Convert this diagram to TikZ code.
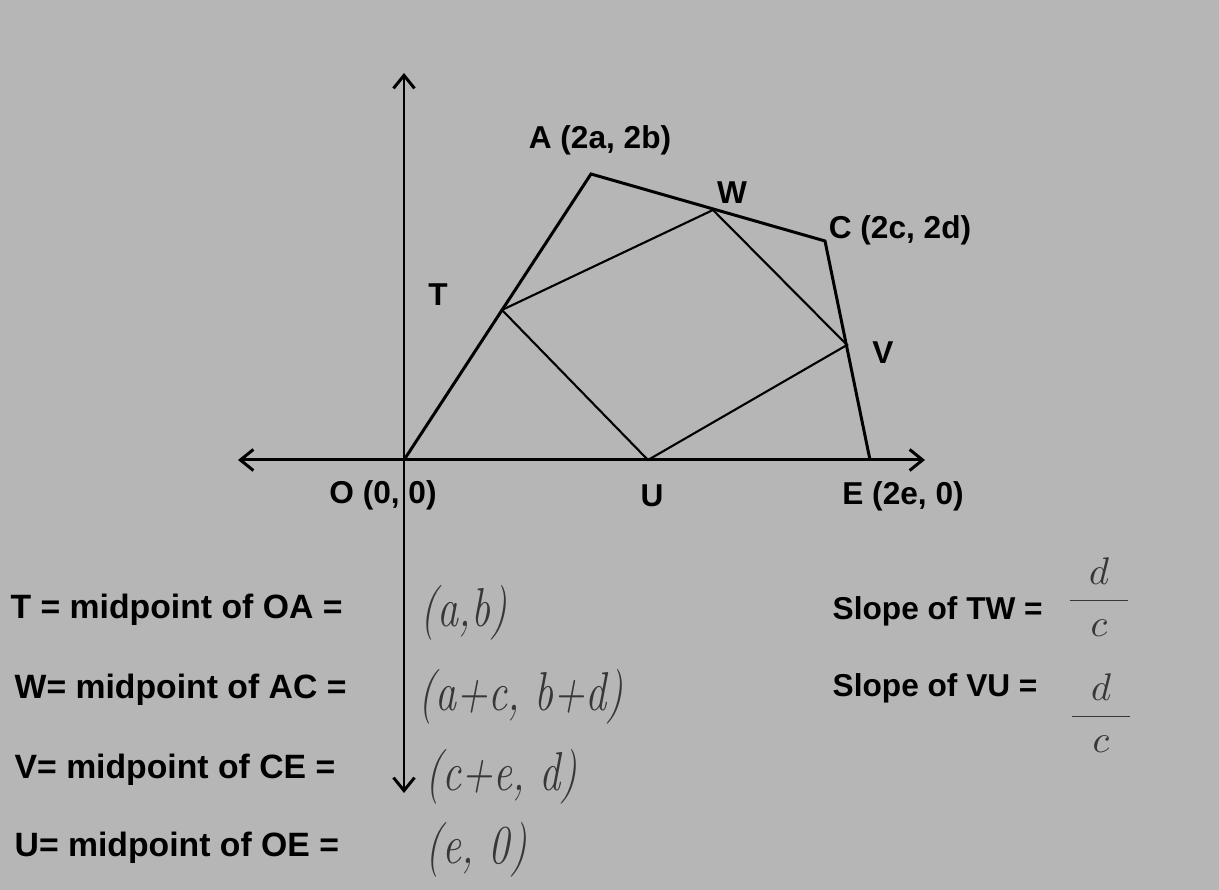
\documentclass[tikz,border=0pt]{standalone}
\usepackage{fontspec}
\setmainfont{Liberation Sans}
\usepackage{amsmath}
\usepackage{xcolor}
\definecolor{scangray}{RGB}{182,182,182}
\definecolor{penink}{RGB}{55,55,55}
\usetikzlibrary{arrows.meta}

\begin{document}
\begin{tikzpicture}[
  ptlabel/.style={font=\bfseries\fontsize{9}{11}\selectfont, inner sep=0pt},
  statement/.style={font=\bfseries\fontsize{9.6}{11}\selectfont, inner sep=0pt, anchor=west},
  handnote/.style={font=\fontfamily{lmr}\itshape\fontsize{12}{12}\selectfont, text=penink, inner sep=0pt},
  axisline/.style={line width=0.85pt, {Straight Barb[length=1.3mm,width=2.1mm]}-{Straight Barb[length=1.3mm,width=2.1mm]}},
  outerside/.style={line width=0.85pt},
  innerside/.style={line width=0.6pt}
]
  % scanned page
  \fill[scangray] (-4.04,-4.30) rectangle (8.15,4.60);

  % axes
  \coordinate (xmin) at (-1.66,0);
  \coordinate (xmax) at (5.21,0);
  \coordinate (ymin) at (0,-3.33);
  \coordinate (ymax) at (0,3.87);
  \draw[axisline] (xmin) -- (xmax);
  \draw[axisline] (ymin) -- (ymax);

  % quadrilateral OACE
  \coordinate (O) at (0,0);
  \coordinate (A) at (1.87,2.86);
  \coordinate (C) at (4.21,2.19);
  \coordinate (E) at (4.66,0);
  \draw[outerside, line join=miter] (O) -- (A) -- (C) -- (E);

  % midpoints T, W, V, U
  \coordinate (T) at (0.98,1.50);
  \coordinate (W) at (3.09,2.50);
  \coordinate (V) at (4.43,1.15);
  \coordinate (U) at (2.44,0);
  \draw[innerside] (T) -- (W) -- (V) -- (U) -- cycle;

  % point labels
  \node[ptlabel] (labA) at (1.96,3.20) {A (2a, 2b)};
  \node[ptlabel] (labW) at (3.28,2.67) {W};
  \node[ptlabel] (labC) at (4.96,2.30) {C (2c, 2d)};
  \node[ptlabel] (labT) at (0.34,1.65) {T};
  \node[ptlabel] (labV) at (4.79,1.07) {V};
  \node[ptlabel] (labO) at (-0.21,-0.35) {O (0, 0)};
  \node[ptlabel] (labU) at (2.48,-0.36) {U};
  \node[ptlabel] (labE) at (4.99,-0.36) {E (2e, 0)};

  % midpoint statements
  \node[statement] (stT) at (-3.94,-1.50) {T = midpoint of OA =};
  \node[statement] (stW) at (-3.90,-2.30) {W= midpoint of AC =};
  \node[statement] (stV) at (-3.90,-3.10) {V= midpoint of CE =};
  \node[statement] (stU) at (-3.90,-3.88) {U= midpoint of OE =};

  % handwritten answers
  \node[handnote, anchor=west] (ansT) at (0.16,-1.53) {\scalebox{1}[1.3]{(a,b)}};
  \node[handnote, anchor=west] (ansW) at (0.14,-2.37) {\scalebox{1}[1.3]{(a+c, b+d)}};
  \node[handnote, anchor=west] (ansV) at (0.21,-3.17) {\scalebox{1}[1.3]{(c+e, d)}};
  \node[handnote, anchor=west] (ansU) at (0.21,-3.90) {\scalebox{1}[1.3]{(e, 0)}};

  % slopes
  \node[ptlabel, anchor=west] (slTW) at (4.28,-1.51) {Slope of TW =};
  \node[ptlabel, anchor=west] (slVU) at (4.28,-2.28) {Slope of VU =};
  \node[handnote, font=\fontsize{11}{11}\selectfont] (frTW) at (6.95,-1.37) {$\dfrac{\enspace d\enspace}{\enspace c\enspace}$};
  \node[handnote, font=\fontsize{11}{11}\selectfont] (frVU) at (6.97,-2.53) {$\dfrac{\enspace d\enspace}{\enspace c\enspace}$};
\end{tikzpicture}
\end{document}
